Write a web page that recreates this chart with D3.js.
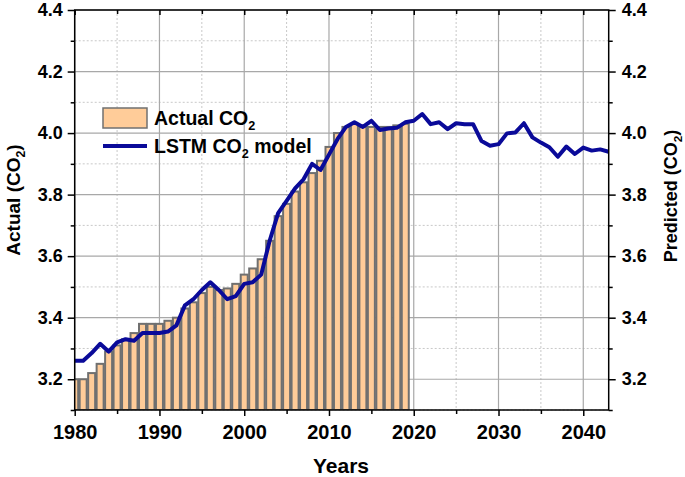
<!DOCTYPE html>
<html><head><meta charset="utf-8">
<script src="https://cdn.jsdelivr.net/npm/d3@7"></script>
<style>body{margin:0;background:#fff}text{font-family:"Liberation Sans",Arial,sans-serif;font-weight:bold}</style>
</head><body>
<script>
const actualYears = d3.range(1980, 2020);
const actualValues = [3.20,3.20,3.22,3.25,3.29,3.31,3.33,3.35,3.38,3.38,3.38,3.39,3.40,3.43,3.45,3.48,3.50,3.49,3.495,3.51,
  3.54,3.56,3.59,3.65,3.73,3.77,3.81,3.84,3.87,3.91,3.955,4.00,4.02,4.03,4.02,4.02,4.02,4.02,4.025,4.03];
const modelYears = d3.range(1980, 2044);
const modelValues = [3.26,3.26,3.285,3.315,3.29,3.32,3.33,3.325,3.35,3.35,3.35,3.355,3.375,3.44,3.46,3.49,3.515,3.49,3.46,3.47,
  3.51,3.515,3.54,3.65,3.74,3.78,3.82,3.85,3.90,3.88,3.93,3.98,4.02,4.035,4.02,4.04,4.01,4.015,4.017,4.035,
  4.04,4.062,4.029,4.035,4.013,4.032,4.029,4.029,3.974,3.959,3.964,3.999,4.002,4.032,3.986,3.969,3.954,3.923,3.956,3.932,
  3.953,3.943,3.947,3.939];
const xMajorTicks = [1980,1990,2000,2010,2020,2030,2040];
const yMajorTicks = [3.2,3.4,3.6,3.8,4.0,4.2,4.4];

const W=685,H=477, L=74.7, R=608.7, T=10, B=410;
const svg = d3.select("body").append("svg").attr("width",W).attr("height",H);
const x = d3.scaleLinear().domain([1980,2043]).range([L,R]);
const y = d3.scaleLinear().domain([3.1,4.4]).range([B,T]);

const xMinor = d3.range(1985,2043,10);
const yMinor = d3.range(3.1,4.35,0.2).map(v=>+v.toFixed(1));

// grid
const g = svg.append("g");
g.selectAll(".vmin").data(xMinor).join("line").attr("x1",d=>x(d)).attr("x2",d=>x(d)).attr("y1",T).attr("y2",B)
 .attr("stroke","#c8c8c8").attr("stroke-dasharray","2,2");
g.selectAll(".hmin").data(yMinor).join("line").attr("y1",d=>y(d)).attr("y2",d=>y(d)).attr("x1",L).attr("x2",R)
 .attr("stroke","#c8c8c8").attr("stroke-dasharray","2,2");
g.selectAll(".vmaj").data(xMajorTicks).join("line").attr("x1",d=>x(d)).attr("x2",d=>x(d)).attr("y1",T).attr("y2",B)
 .attr("stroke","#a8a8a8").attr("stroke-width",1.2);
g.selectAll(".hmaj").data(yMajorTicks).join("line").attr("y1",d=>y(d)).attr("y2",d=>y(d)).attr("x1",L).attr("x2",R)
 .attr("stroke","#a8a8a8").attr("stroke-width",1.2);

svg.append("clipPath").attr("id","clip").append("rect").attr("x",L).attr("y",T).attr("width",R-L).attr("height",B-T);
const plot = svg.append("g").attr("clip-path","url(#clip)");
const bw = 7;
plot.selectAll("rect.bar").data(actualYears).join("rect").attr("class","bar")
 .attr("x",(d)=>x(d)-bw/2).attr("width",bw)
 .attr("y",(d,i)=>y(actualValues[i])).attr("height",(d,i)=>B-y(actualValues[i]))
 .attr("fill","#FFCC99").attr("stroke","#707070").attr("stroke-width",2);
plot.append("path").datum(modelYears.map((d,i)=>[d,modelValues[i]]))
 .attr("d",d3.line().x(d=>x(d[0])).y(d=>y(d[1])))
 .attr("fill","none").attr("stroke","#0a0a99").attr("stroke-width",4).attr("stroke-linejoin","round");

// axes
const fmt = d3.format(".1f");
const axL = svg.append("g").attr("transform",`translate(${L},0)`).call(d3.axisLeft(y).tickValues(yMajorTicks).tickFormat(fmt).tickSize(7).tickPadding(5));
const axLm = svg.append("g").attr("transform",`translate(${L},0)`).call(d3.axisLeft(y).tickValues(yMinor).tickFormat("").tickSize(4));
const axR = svg.append("g").attr("transform",`translate(${R},0)`).call(d3.axisRight(y).tickValues(yMajorTicks).tickFormat(fmt).tickSize(7).tickPadding(6));
const axRm = svg.append("g").attr("transform",`translate(${R},0)`).call(d3.axisRight(y).tickValues(yMinor).tickFormat("").tickSize(4));
const axB = svg.append("g").attr("transform",`translate(0,${B})`).call(d3.axisBottom(x).tickValues(xMajorTicks).tickFormat(d3.format("d")).tickSize(6).tickPadding(9));
const axBm = svg.append("g").attr("transform",`translate(0,${B})`).call(d3.axisBottom(x).tickValues(xMinor).tickFormat("").tickSize(4));
const axT = svg.append("g").attr("transform",`translate(0,${T})`).call(d3.axisBottom(x).tickValues(xMajorTicks).tickFormat("").tickSize(5));
const axTm = svg.append("g").attr("transform",`translate(0,${T})`).call(d3.axisBottom(x).tickValues(xMinor).tickFormat("").tickSize(4));
[axL,axLm,axR,axRm,axB,axBm,axT,axTm].forEach(a=>{
  a.selectAll("path.domain").remove();
  a.selectAll("line").attr("stroke","#000").attr("stroke-width",1.5);
  a.selectAll("text").attr("fill","#000").style("font-size","18px").style("font-family",'"Liberation Sans",Arial,sans-serif').style("font-weight","bold");
});
axB.selectAll("text").style("font-size","20px");
// frame
svg.append("rect").attr("x",L).attr("y",T).attr("width",R-L).attr("height",B-T).attr("fill","none").attr("stroke","#000").attr("stroke-width",1.5);

// axis titles
function sub(t, main, s, tail, size){
  t.append("tspan").text(main);
  t.append("tspan").text(s).attr("dy",size*0.28).style("font-size",(size*0.65)+"px");
  t.append("tspan").text(tail).attr("dy",-size*0.28);
}
const yl = svg.append("text").attr("transform",`translate(20,${(T+B)/2 - 10}) rotate(-90)`).attr("text-anchor","middle").style("font-size","19px");
sub(yl,"Actual (CO","2",")",19);
const yr = svg.append("text").attr("transform",`translate(677,${(T+B)/2 - 14}) rotate(-90)`).attr("text-anchor","middle").style("font-size","18px");
sub(yr,"Predicted (CO","2",")",18);
svg.append("text").attr("x",341).attr("y",473).attr("text-anchor","middle").style("font-size","21px").text("Years");

// legend
const lg = svg.append("g");
lg.append("rect").attr("x",103).attr("y",108).attr("width",44).attr("height",20).attr("fill","#FFCC99").attr("stroke","#707070").attr("stroke-width",1.5);
const t1 = lg.append("text").attr("x",154).attr("y",125).style("font-size","19.5px");
sub(t1,"Actual CO","2","",19.5);
lg.append("line").attr("x1",103).attr("x2",147).attr("y1",146).attr("y2",146).attr("stroke","#0a0a99").attr("stroke-width",4);
const t2 = lg.append("text").attr("x",154).attr("y",153).style("font-size","19.5px");
sub(t2,"LSTM CO","2"," model",19.5);
</script>
</body></html>
